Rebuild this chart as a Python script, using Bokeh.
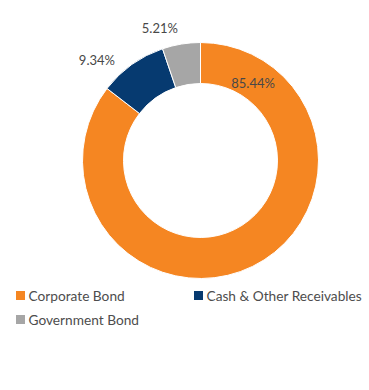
import math
from bokeh.plotting import figure
from bokeh.models import Range1d, ColumnDataSource
from bokeh.core.properties import value
from bokeh.embed import file_html
from bokeh.resources import INLINE

# ---- data ----
categories = ["Corporate Bond", "Cash & Other Receivables", "Government Bond"]
shares = [85.44, 9.34, 5.21]
colors = ["#F58622", "#063A70", "#A6A6A6"]

# ---- layout / style ----
W, H = 366, 380
cx, cy = 200, 390 - 160
r_in, r_out = 77, 118
# label placement: angle (deg, clockwise from top) and distance from centre
label_angle = [34, 314, 343]
label_dist = [94, 144, 139]

p = figure(width=W, height=H, output_backend="svg", toolbar_location=None,
           x_range=Range1d(0, W), y_range=Range1d(390 - H, 390),
           min_border=0, outline_line_color=None)
p.axis.visible = False
p.grid.visible = False
p.background_fill_color = "white"
p.border_fill_color = "white"

total = sum(shares)
starts, ends = [], []
cum = 0.0
for s in shares:
    a0 = math.pi / 2 - cum / total * 2 * math.pi
    cum += s
    a1 = math.pi / 2 - cum / total * 2 * math.pi
    starts.append(a0)
    ends.append(a1)

src = ColumnDataSource(dict(x=[cx] * 3, y=[cy] * 3, start=starts, end=ends,
                            color=colors, name=categories))
p.annular_wedge(x="x", y="y", inner_radius=r_in, outer_radius=r_out,
                start_angle="start", end_angle="end", direction="clock",
                fill_color="color", line_color="white", line_width=1, source=src)

lx = [cx + d * math.sin(math.radians(a)) for a, d in zip(label_angle, label_dist)]
ly = [cy + d * math.cos(math.radians(a)) for a, d in zip(label_angle, label_dist)]
p.text(x=lx, y=ly, text=[f"{s:.2f}%" for s in shares],
       text_font=value("Lato"), text_font_size="13px", text_color="#484848",
       text_align="center", text_baseline="middle")

# legend drawn manually: 2 columns
col_x = [16, 194]
row_y = [390 - 295, 390 - 319]
sq_x, sq_y, tx, ty = [], [], [], []
for i, c in enumerate(categories):
    col, row = i % 2, i // 2
    sq_x.append(col_x[col] + 4)
    sq_y.append(row_y[row])
    tx.append(col_x[col] + 12)
    ty.append(row_y[row])
p.rect(x=sq_x, y=sq_y, width=9, height=9, width_units="screen", height_units="screen",
       fill_color=colors, line_color=None)
p.text(x=tx, y=ty, text=categories, text_font=value("Lato"), text_font_size="13.7px",
       text_color="#4d4d4d", text_align="left", text_baseline="middle")

open("out.html", "w").write(file_html(p, INLINE))
